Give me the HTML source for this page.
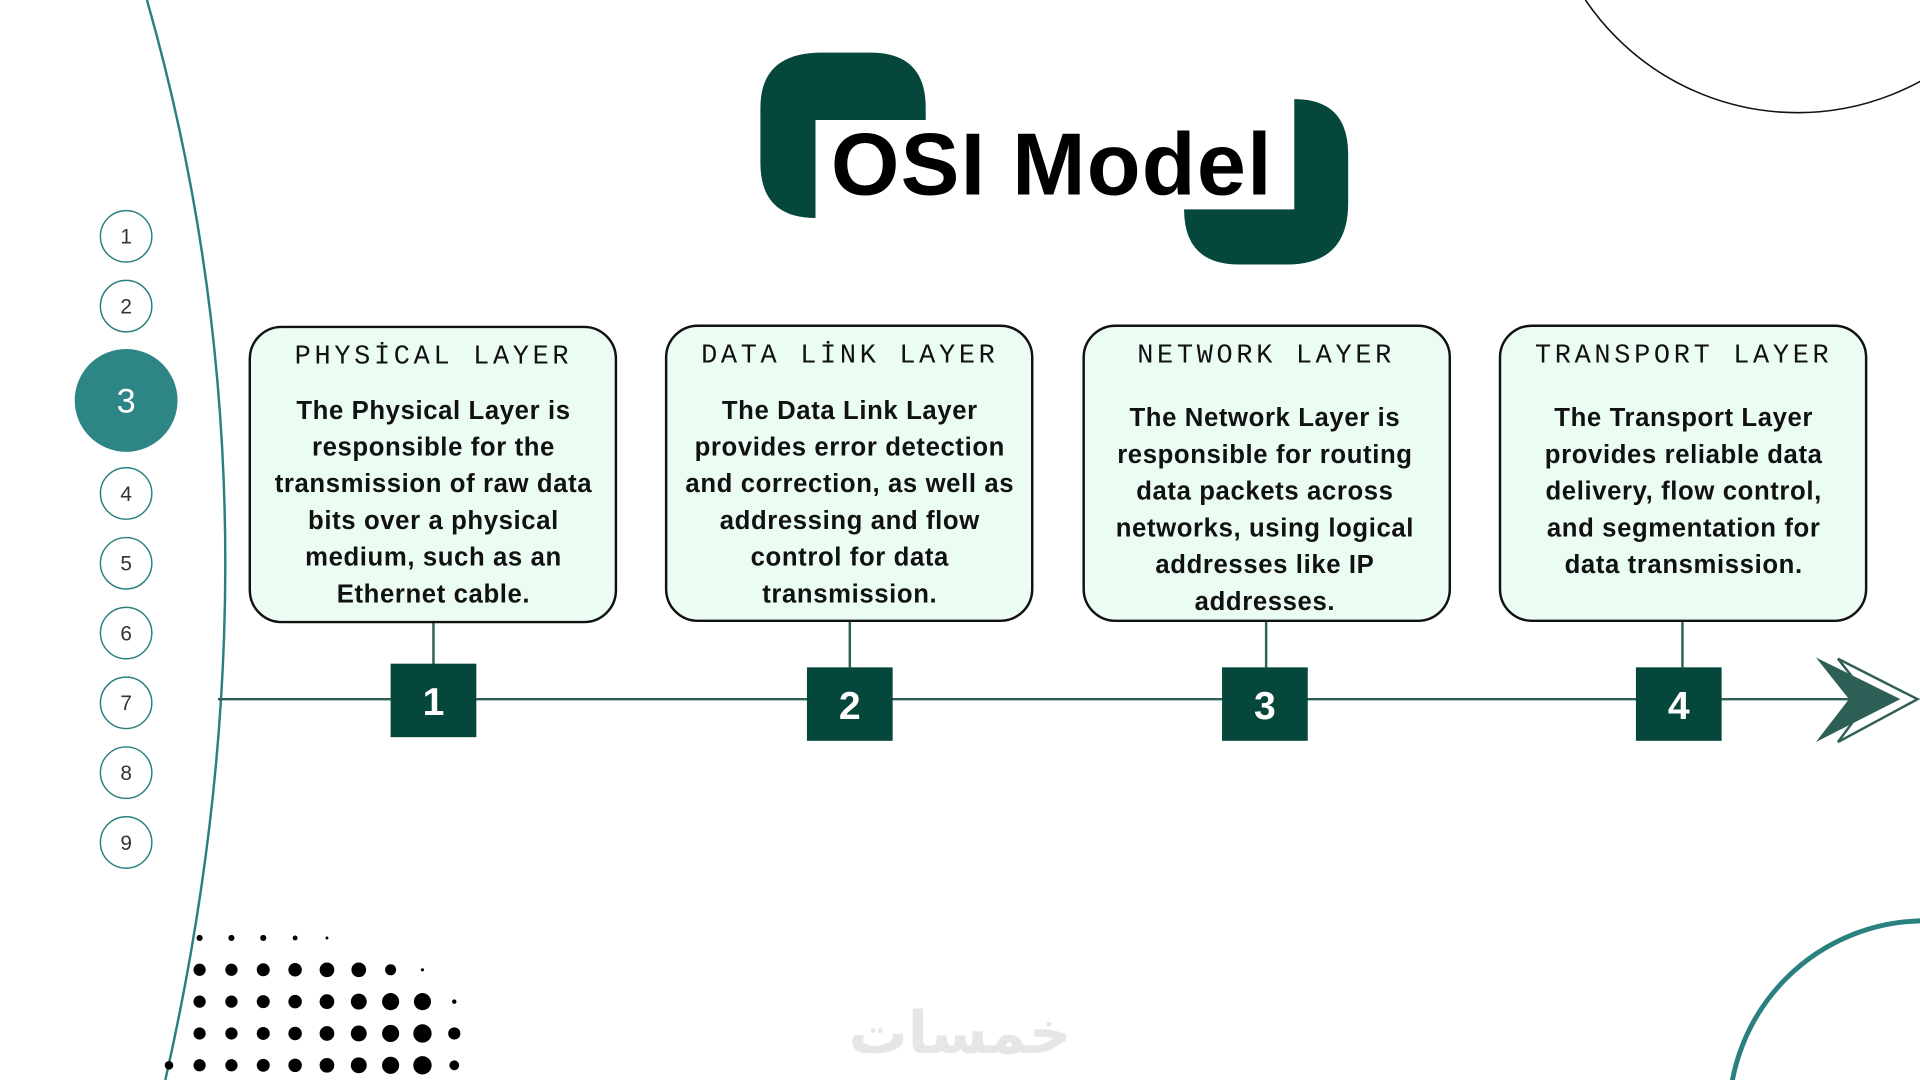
<!DOCTYPE html>
<html><head><meta charset="utf-8"><style>
html,body{margin:0;padding:0;background:#fff;overflow:hidden;width:1920px;height:1080px}
svg{display:block;position:absolute;left:0;top:0}
.t{font-family:"Liberation Mono",monospace;font-size:22px;letter-spacing:3px;text-anchor:middle;fill:#111}
.b{font-family:"Liberation Sans",sans-serif;font-weight:bold;font-size:21px;letter-spacing:0.5px;text-anchor:middle;fill:#111}
.c{font-family:"Liberation Sans",sans-serif;font-size:17px;text-anchor:middle;fill:#333}
.n{font-family:"Liberation Sans",sans-serif;font-weight:bold;font-size:32px;text-anchor:middle;fill:#fff}
</style></head><body>
<svg width="1920" height="1080" viewBox="0 0 1568 882" xmlns="http://www.w3.org/2000/svg">
<circle cx="1468" cy="-117" r="209" fill="none" stroke="#111" stroke-width="1.3"/>
<circle cx="1572" cy="912" r="160" fill="none" stroke="#2a7f7f" stroke-width="4"/>
<path d="M120 0 Q 240 420 135 882" fill="none" stroke="#2a7f7f" stroke-width="2"/>
<g fill="#000">
<circle cx="163" cy="766" r="2.5"/><circle cx="189" cy="766" r="2.5"/><circle cx="215" cy="766" r="2.5"/><circle cx="241" cy="766" r="2"/><circle cx="267" cy="766" r="1.2"/>
<circle cx="163" cy="792" r="5"/><circle cx="189" cy="792" r="5"/><circle cx="215" cy="792" r="5.3"/><circle cx="241" cy="792" r="5.5"/><circle cx="267" cy="792" r="6"/><circle cx="293" cy="792" r="6"/><circle cx="319" cy="792" r="4.5"/><circle cx="345" cy="792" r="1.3"/>
<circle cx="163" cy="818" r="5"/><circle cx="189" cy="818" r="5"/><circle cx="215" cy="818" r="5.3"/><circle cx="241" cy="818" r="5.5"/><circle cx="267" cy="818" r="6"/><circle cx="293" cy="818" r="6.5"/><circle cx="319" cy="818" r="7"/><circle cx="345" cy="818" r="7"/><circle cx="371" cy="818" r="1.8"/>
<circle cx="163" cy="844" r="5"/><circle cx="189" cy="844" r="5"/><circle cx="215" cy="844" r="5.3"/><circle cx="241" cy="844" r="5.5"/><circle cx="267" cy="844" r="6"/><circle cx="293" cy="844" r="6.5"/><circle cx="319" cy="844" r="7"/><circle cx="345" cy="844" r="7.5"/><circle cx="371" cy="844" r="5"/>
<circle cx="138" cy="870" r="3.5"/><circle cx="163" cy="870" r="5"/><circle cx="189" cy="870" r="5"/><circle cx="215" cy="870" r="5.3"/><circle cx="241" cy="870" r="5.5"/><circle cx="267" cy="870" r="6"/><circle cx="293" cy="870" r="6.5"/><circle cx="319" cy="870" r="7"/><circle cx="345" cy="870" r="7.5"/><circle cx="371" cy="870" r="4"/>
</g>
<g fill="#fff" stroke="#2a7f7f" stroke-width="1.2">
<circle cx="103" cy="193" r="21"/><circle cx="103" cy="250" r="21"/><circle cx="103" cy="403" r="21"/><circle cx="103" cy="460" r="21"/><circle cx="103" cy="517" r="21"/><circle cx="103" cy="574" r="21"/><circle cx="103" cy="631" r="21"/><circle cx="103" cy="688" r="21"/>
</g>
<circle cx="103" cy="327" r="42" fill="#2e8585"/>
<text class="c" x="103" y="199">1</text><text class="c" x="103" y="256">2</text>
<text class="c" x="103" y="409">4</text><text class="c" x="103" y="466">5</text><text class="c" x="103" y="523">6</text><text class="c" x="103" y="580">7</text><text class="c" x="103" y="637">8</text><text class="c" x="103" y="694">9</text>
<text x="103" y="337" style="font-family:'Liberation Sans',sans-serif;font-size:28px;text-anchor:middle;fill:#fff">3</text>
<path d="M671 43 H711 Q756 43 756 88 V98 H666 V178 Q621 178 621 133 V88 Q621 43 671 43 Z" fill="#05473b"/>
<path d="M1057 81 Q1101 81 1101 126 V166 Q1101 216 1051 216 H1012 Q967 216 967 171 H1057 Z" fill="#05473b"/>
<text x="859" y="159" style="font-family:'Liberation Sans',sans-serif;font-weight:bold;font-size:72px;letter-spacing:1px;text-anchor:middle;fill:#000">OSI Model</text>
<line x1="178" y1="571" x2="1556" y2="571" stroke="#2e5f57" stroke-width="2"/>
<path d="M1501 538 L1566 571 L1501 606 L1527 571 Z" fill="#fff" stroke="#2e5f57" stroke-width="2"/>
<path d="M1483 537 L1552 571 L1483 606 L1510 571 Z" fill="#2e5f57"/>
<g stroke="#2e5f57" stroke-width="2">
<line x1="354" y1="508" x2="354" y2="545"/><line x1="694" y1="508" x2="694" y2="545"/><line x1="1034" y1="508" x2="1034" y2="545"/><line x1="1374" y1="508" x2="1374" y2="545"/>
</g>
<g fill="#05473b">
<rect x="319" y="542" width="70" height="60"/><rect x="659" y="545" width="70" height="60"/><rect x="998" y="545" width="70" height="60"/><rect x="1336" y="545" width="70" height="60"/>
</g>
<text class="n" x="354" y="584">1</text><text class="n" x="694" y="587">2</text><text class="n" x="1033" y="587">3</text><text class="n" x="1371" y="587">4</text>
<g fill="#ebfcf3" stroke="#111" stroke-width="2">
<rect x="204" y="267" width="299" height="241" rx="26"/>
<rect x="544" y="266" width="299" height="241" rx="26"/>
<rect x="885" y="266" width="299" height="241" rx="26"/>
<rect x="1225" y="266" width="299" height="241" rx="26"/>
</g>
<text class="t" x="354" y="297">PHYSİCAL LAYER</text>
<text class="t" x="694" y="296">DATA LİNK LAYER</text>
<text class="t" x="1034" y="296">NETWORK LAYER</text>
<text class="t" x="1375" y="296">TRANSPORT LAYER</text>
<text class="b" x="354" y="342">The Physical Layer is</text>
<text class="b" x="354" y="372">responsible for the</text>
<text class="b" x="354" y="402">transmission of raw data</text>
<text class="b" x="354" y="432">bits over a physical</text>
<text class="b" x="354" y="462">medium, such as an</text>
<text class="b" x="354" y="492">Ethernet cable.</text>
<text class="b" x="694" y="342">The Data Link Layer</text>
<text class="b" x="694" y="372">provides error detection</text>
<text class="b" x="694" y="402">and correction, as well as</text>
<text class="b" x="694" y="432">addressing and flow</text>
<text class="b" x="694" y="462">control for data</text>
<text class="b" x="694" y="492">transmission.</text>
<text class="b" x="1033" y="348">The Network Layer is</text>
<text class="b" x="1033" y="378">responsible for routing</text>
<text class="b" x="1033" y="408">data packets across</text>
<text class="b" x="1033" y="438">networks, using logical</text>
<text class="b" x="1033" y="468">addresses like IP</text>
<text class="b" x="1033" y="498">addresses.</text>
<text class="b" x="1375" y="348">The Transport Layer</text>
<text class="b" x="1375" y="378">provides reliable data</text>
<text class="b" x="1375" y="408">delivery, flow control,</text>
<text class="b" x="1375" y="438">and segmentation for</text>
<text class="b" x="1375" y="468">data transmission.</text>
<text x="784" y="860" style="font-family:'DejaVu Sans',sans-serif;font-weight:bold;font-size:48px;text-anchor:middle;fill:#e6e6e6">خمسات</text>
</svg>
</body></html>
